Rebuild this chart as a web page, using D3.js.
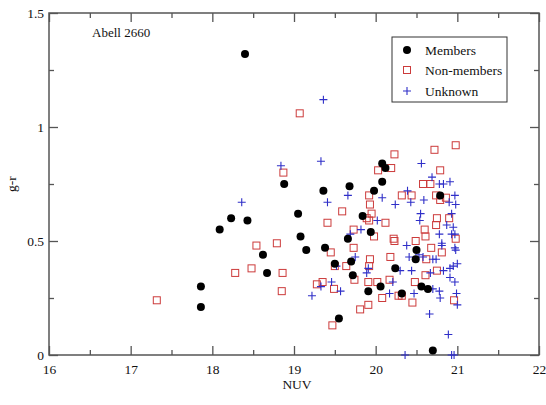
<!DOCTYPE html>
<html><head><meta charset="utf-8">
<script src="https://cdn.jsdelivr.net/npm/d3@7"></script>
<style>body{margin:0;background:#fff}svg{display:block}text{font-family:"Liberation Serif","Times New Roman",serif;fill:#111}</style>
</head><body>
<script>
const title = "Abell 2660";
const xLabel = "NUV", yLabel = "g-r";
const xTicks = [16,17,18,19,20,21,22];
const yTicks = [0,0.5,1,1.5];
const legendLabels = ["Members","Non-members","Unknown"];

const members = [
[18.40,1.32],[17.86,0.30],[17.86,0.21],[18.09,0.55],[18.23,0.60],[18.43,0.59],[18.62,0.44],[18.67,0.36],
[18.88,0.75],[19.05,0.62],[19.08,0.52],[19.15,0.46],[19.36,0.72],[19.68,0.74],[19.98,0.72],[20.08,0.84],
[20.12,0.82],[20.08,0.76],[19.84,0.61],[19.94,0.54],[19.66,0.51],[19.38,0.47],[19.70,0.41],[19.50,0.40],
[19.72,0.35],[20.50,0.46],[20.49,0.42],[20.24,0.38],[20.06,0.30],[19.91,0.28],[20.32,0.27],[19.55,0.16],
[20.56,0.30],[20.64,0.29],[20.79,0.70],[20.70,0.02]];

const nonMembers = [
[17.32,0.24],[18.28,0.36],[18.48,0.38],[18.54,0.48],[18.79,0.49],[18.86,0.36],[18.85,0.28],[18.87,0.80],
[19.07,1.06],[19.28,0.31],[19.35,0.32],[19.49,0.29],[19.47,0.13],[19.41,0.58],[19.45,0.45],[19.50,0.39],
[19.59,0.63],[19.64,0.39],[19.73,0.55],[19.73,0.47],[19.74,0.33],[19.81,0.20],[19.89,0.60],[19.95,0.62],
[19.92,0.59],[19.92,0.70],[19.93,0.66],[19.98,0.52],[19.93,0.42],[19.92,0.39],[19.91,0.32],[19.91,0.22],
[20.02,0.32],[20.03,0.81],[20.08,0.25],[20.12,0.58],[20.17,0.33],[20.18,0.43],[20.19,0.82],[20.22,0.51],
[20.23,0.50],[20.23,0.88],[20.28,0.26],[20.32,0.70],[20.32,0.26],[20.44,0.70],[20.45,0.23],[20.48,0.32],
[20.49,0.50],[20.58,0.75],[20.67,0.75],[20.60,0.55],[20.61,0.52],[20.61,0.35],[20.62,0.42],[20.68,0.47],
[20.72,0.90],[20.74,0.70],[20.79,0.68],[20.86,0.69],[20.75,0.60],[20.74,0.57],[20.75,0.37],[20.79,0.81],
[20.81,0.45],[20.90,0.60],[20.96,0.24],[20.98,0.51],[20.98,0.92]];

const unknown = [
[18.36,0.67],[18.84,0.83],[19.22,0.26],[19.33,0.85],[19.36,1.12],[19.41,0.67],[19.33,0.30],[19.46,0.32],
[19.57,0.28],[19.52,0.39],[19.66,0.70],[19.69,0.53],[19.75,0.43],[19.82,0.55],[19.89,0.36],[19.91,0.38],
[20.02,0.59],[20.08,0.69],[20.17,0.27],[20.21,0.32],[20.24,0.66],[20.30,0.37],[20.36,0.00],[20.38,0.48],
[20.39,0.72],[20.41,0.43],[20.43,0.67],[20.44,0.37],[20.47,0.27],[20.53,0.44],[20.58,0.43],[20.56,0.84],
[20.55,0.62],[20.54,0.59],[20.59,0.68],[20.66,0.18],[20.67,0.36],[20.69,0.78],[20.70,0.42],[20.74,0.42],
[20.70,0.29],[20.78,0.75],[20.78,0.28],[20.78,0.53],[20.79,0.25],[20.81,0.49],[20.81,0.48],[20.83,0.75],
[20.83,0.37],[20.87,0.57],[20.89,0.09],[20.90,0.67],[20.91,0.76],[20.91,0.38],[20.91,0.34],[20.93,0.62],
[20.93,0.53],[20.93,0.00],[20.95,0.56],[20.95,0.39],[20.96,0.00],[20.97,0.70],[20.97,0.53],[20.97,0.47],
[20.97,0.32],[20.98,0.66],[20.98,0.46],[20.99,0.27],[21.00,0.40],[21.00,0.22]];

const W=546,H=405;
const L=49,R=539,T=13,B=355;
const svg=d3.select("body").append("svg").attr("width",W).attr("height",H);
const x=d3.scaleLinear().domain([16,22]).range([L,R]);
const y=d3.scaleLinear().domain([0,1.5]).range([B,T]);
const axisColor="#555";
const fs="13.5px";

function style(g){g.select(".domain").remove();g.selectAll("line").attr("stroke",axisColor).attr("stroke-width",1.3);g.selectAll("text").style("font-size",fs).attr("fill","#111");}
const xMinor=d3.range(16.5,22,1), yMinor=d3.range(0.25,1.5,0.5);
// bottom
svg.append("g").attr("transform",`translate(0,${B})`).call(d3.axisBottom(x).tickValues(xTicks).tickSizeInner(-9).tickSizeOuter(0).tickPadding(9).tickFormat(d3.format("d"))).call(style);
svg.append("g").attr("transform",`translate(0,${B})`).call(d3.axisBottom(x).tickValues(xMinor).tickSizeInner(-5).tickSizeOuter(0).tickFormat("")).call(style);
// top
svg.append("g").attr("transform",`translate(0,${T})`).call(d3.axisTop(x).tickValues(xTicks).tickSizeInner(-9).tickSizeOuter(0).tickFormat("")).call(style);
svg.append("g").attr("transform",`translate(0,${T})`).call(d3.axisTop(x).tickValues(xMinor).tickSizeInner(-5).tickSizeOuter(0).tickFormat("")).call(style);
// left
svg.append("g").attr("transform",`translate(${L},0)`).call(d3.axisLeft(y).tickValues(yTicks).tickSizeInner(-9).tickSizeOuter(0).tickPadding(5).tickFormat(d3.format(""))).call(style);
svg.append("g").attr("transform",`translate(${L},0)`).call(d3.axisLeft(y).tickValues(yMinor).tickSizeInner(-5).tickSizeOuter(0).tickFormat("")).call(style);
// right
svg.append("g").attr("transform",`translate(${R},0)`).call(d3.axisRight(y).tickValues(yTicks).tickSizeInner(-9).tickSizeOuter(0).tickFormat("")).call(style);
svg.append("g").attr("transform",`translate(${R},0)`).call(d3.axisRight(y).tickValues(yMinor).tickSizeInner(-5).tickSizeOuter(0).tickFormat("")).call(style);
// frame
svg.append("rect").attr("x",L).attr("y",T).attr("width",R-L).attr("height",B-T).attr("fill","none").attr("stroke",axisColor).attr("stroke-width",1.5);

const red="#cc3b3b", blue="#2f2fc8";
// non-members
svg.append("g").selectAll("rect").data(nonMembers).join("rect")
 .attr("x",d=>x(d[0])-3.5).attr("y",d=>y(d[1])-3.5).attr("width",7).attr("height",7)
 .attr("fill","none").attr("stroke",red).attr("stroke-width",1);
// unknown
svg.append("g").selectAll("path").data(unknown).join("path")
 .attr("d",d=>{const cx=x(d[0]),cy=y(d[1]);return `M${cx-4},${cy}H${cx+4}M${cx},${cy-4}V${cy+4}`;})
 .attr("stroke",blue).attr("stroke-width",1.1).attr("fill","none");
// members
svg.append("g").selectAll("circle").data(members).join("circle")
 .attr("cx",d=>x(d[0])).attr("cy",d=>y(d[1])).attr("r",4).attr("fill","#000");

// title
svg.append("text").attr("x",92).attr("y",37).style("font-size","13px").text(title);
// axis labels
svg.append("text").attr("x",297).attr("y",389).attr("text-anchor","middle").style("font-size",fs).text(xLabel);
svg.append("text").attr("transform","translate(16,184) rotate(-90)").attr("text-anchor","middle").style("font-size",fs).text(yLabel);

// legend
const lg=svg.append("g");
lg.append("rect").attr("x",392).attr("y",37).attr("width",115).attr("height",65).attr("fill","#fff").attr("stroke","#333").attr("stroke-width",1);
const ly=[50,70,91];
lg.append("circle").attr("cx",407).attr("cy",ly[0]).attr("r",4).attr("fill","#000");
lg.append("rect").attr("x",403.5).attr("y",ly[1]-3.5).attr("width",7).attr("height",7).attr("fill","none").attr("stroke",red);
lg.append("path").attr("d",`M403,${ly[2]}H411M407,${ly[2]-4}V${ly[2]+4}`).attr("stroke",blue).attr("stroke-width",1.1);
legendLabels.forEach((t,i)=>lg.append("text").attr("x",425).attr("y",ly[i]+4.5).style("font-size",fs).text(t));
</script>
</body></html>
